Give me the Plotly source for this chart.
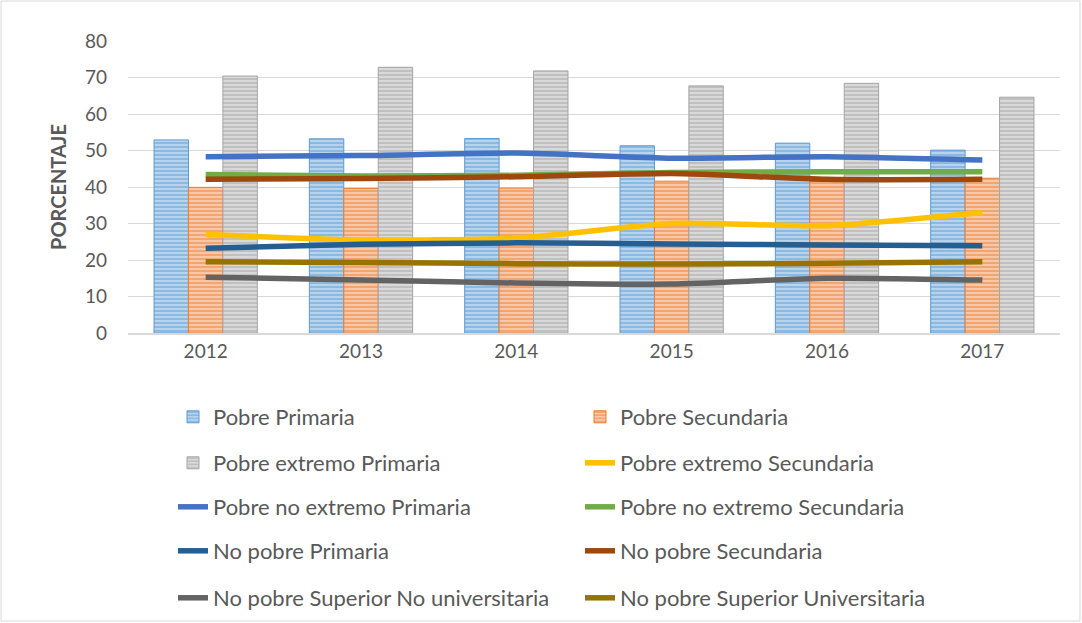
import plotly.graph_objects as go

years = ["2012", "2013", "2014", "2015", "2016", "2017"]

pobre_primaria = [52.9, 53.2, 53.3, 51.3, 52.0, 50.1]
pobre_secundaria = [39.9, 39.6, 39.7, 41.6, 41.5, 42.4]
pobre_ext_primaria = [70.4, 72.8, 71.8, 67.7, 68.4, 64.6]

pobre_ext_secundaria = [27.0, 25.5, 26.0, 30.0, 29.4, 33.0]
pobre_noext_primaria = [48.3, 48.6, 49.3, 47.9, 48.3, 47.4]
pobre_noext_secundaria = [43.4, 43.0, 43.2, 44.0, 44.2, 44.2]
nopobre_primaria = [23.2, 24.3, 24.7, 24.4, 24.1, 23.9]
nopobre_secundaria = [42.1, 42.3, 42.8, 43.7, 42.1, 42.1]
nopobre_sup_nouniv = [15.3, 14.5, 13.7, 13.4, 15.0, 14.5]
nopobre_sup_univ = [19.5, 19.3, 19.0, 18.9, 19.1, 19.5]

FONT = "Lato"
TXT = "#595959"

fig = go.Figure()

bars = [
    ("Pobre Primaria", pobre_primaria, "#BDD7EE", "#5B9BD5", "legend"),
    ("Pobre Secundaria", pobre_secundaria, "#F8CBAD", "#ED7D31", "legend"),
    ("Pobre extremo Primaria", pobre_ext_primaria, "#DBDBDB", "#A5A5A5", "legend2"),
]
for name, vals, bg, fg, lg in bars:
    fig.add_trace(go.Bar(
        x=years, y=vals, name=name, legend=lg,
        marker=dict(color=bg, line=dict(color=fg, width=1),
                    pattern=dict(shape="-", fgcolor=fg, size=4, solidity=0.55)),
    ))

lines = [
    ("Pobre extremo Secundaria", pobre_ext_secundaria, "#FFC000", "legend2"),
    ("Pobre no extremo Primaria", pobre_noext_primaria, "#4472C4", "legend3"),
    ("Pobre no extremo Secundaria", pobre_noext_secundaria, "#70AD47", "legend3"),
    ("No pobre Primaria", nopobre_primaria, "#255E91", "legend4"),
    ("No pobre Secundaria", nopobre_secundaria, "#9E480E", "legend4"),
    ("No pobre Superior No universitaria", nopobre_sup_nouniv, "#636363", "legend5"),
    ("No pobre Superior Universitaria", nopobre_sup_univ, "#997300", "legend5"),
]
for name, vals, col, lg in lines:
    fig.add_trace(go.Scatter(
        x=years, y=vals, name=name, legend=lg, mode="lines",
        line=dict(color=col, width=5.5, shape="spline", smoothing=0.6),
    ))

plot_top, plot_bottom, plot_left, plot_right = 41, 333, 128, 1060
H, W = 623, 1082
ph = plot_bottom - plot_top
pw = plot_right - plot_left

def legend_at(ypix):
    return dict(
        orientation="h", x=(173 - plot_left) / pw, xanchor="left",
        y=(plot_bottom - ypix) / ph, yanchor="middle",
        entrywidth=362, entrywidthmode="pixels",
        font=dict(family=FONT, size=22, color=TXT),
        bgcolor="rgba(0,0,0,0)", itemwidth=30,
        traceorder="normal",
    )

fig.update_layout(
    width=W, height=H,
    margin=dict(l=plot_left, r=W - plot_right, t=plot_top, b=H - plot_bottom,
                autoexpand=False),
    paper_bgcolor="white", plot_bgcolor="white",
    barmode="group", bargap=0.335, bargroupgap=0,
    font=dict(family=FONT, color=TXT),
    showlegend=True,
    legend=legend_at(417),
    legend2=legend_at(463),
    legend3=legend_at(507),
    legend4=legend_at(551),
    legend5=legend_at(598),
    xaxis=dict(type="category", showgrid=False, showline=True, linecolor="#D9D9D9",
               linewidth=2, ticks="", tickfont=dict(family=FONT, size=19, color=TXT)),
    yaxis=dict(range=[0, 80], dtick=10, showgrid=True, gridcolor="#D9D9D9", gridwidth=1,
               zeroline=False, showline=False, ticks="", ticklabelstandoff=20,
               tickfont=dict(family=FONT, size=19, color=TXT),
               title=dict(text="<b>PORCENTAJE</b>", font=dict(family=FONT, size=20, color=TXT),
                          standoff=12)),
    shapes=[dict(type="rect", xref="paper", yref="paper",
                 x0=(1 - plot_left) / pw, x1=(W - 2 - plot_left) / pw,
                 y0=(plot_bottom - (H - 2)) / ph, y1=(plot_bottom - 1) / ph,
                 line=dict(color="#D9D9D9", width=1), layer="below")],
)

fig.write_html("out.html", config={"displayModeBar": False},
               post_script="document.body.style.margin='0';document.body.style.overflow='hidden';")
